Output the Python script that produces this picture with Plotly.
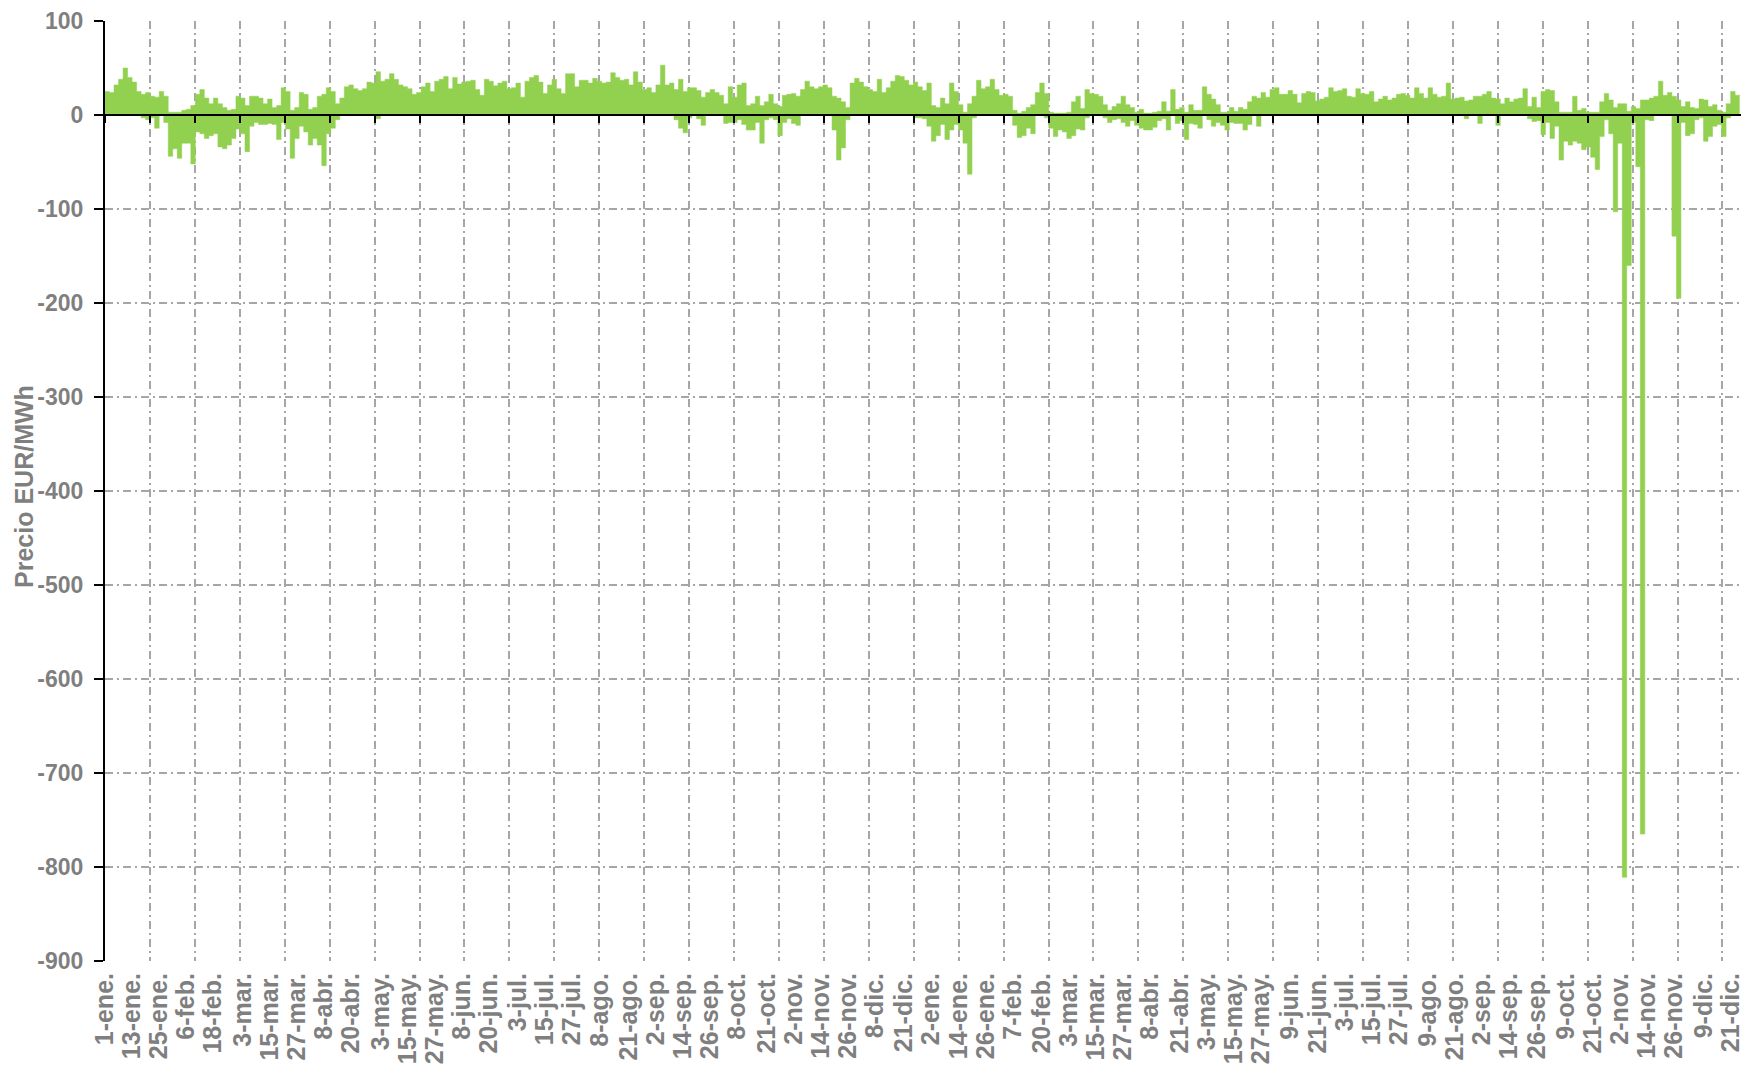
import pandas as pd
import plotly.graph_objects as go

# Two-day bins starting on 1 January 2023: highest and lowest price in each bin (EUR/MWh)
start_date = "2023-01-01"
bin_days = 2

bin_max = [
    25, 24, 32, 38, 50, 40, 35, 25, 22, 24,
    20, 19, 25, 20, 3, 3, 3, 5, 6, 10,
    22, 27, 18, 12, 18, 12, 8, 5, 6, 20,
    18, 10, 20, 20, 18, 12, 17, 8, 10, 29,
    25, 5, 8, 24, 22, 6, 8, 20, 22, 29,
    25, 12, 18, 30, 32, 28,
    26, 28, 35, 34, 46, 36, 38, 44, 38, 32, 30, 28, 22,
    24, 30, 34, 25, 36, 38, 41, 28, 40, 33,
    35, 36, 37, 27, 21, 38, 36, 31, 34, 36,
    28, 29, 34, 19, 36, 40, 42, 35, 23, 32,
    38, 28, 23, 44, 44, 30, 37, 37, 34, 39,
    36, 34, 35, 45, 40, 37, 38, 32, 46, 35,
    27, 29, 24, 32, 53, 32, 34, 27, 38, 25,
    29, 29, 26, 19, 24, 27, 24, 21, 12, 30,
    19, 32, 34, 10, 12, 20, 10, 14, 22, 12,
    9, 21, 22, 23, 20, 27, 36, 30, 28, 30,
    32, 29, 20, 18, 14, 8, 34, 39,
    35,
    30, 27, 25, 38, 24, 29, 36, 42, 41, 37,
    32, 35, 30, 26, 34, 10, 8, 18, 12, 34,
    25, 11, 3, 12, 20, 37, 28, 30, 38, 27,
    21, 22, 20, 5, 2, 4, 8, 11, 24, 34,
    23, 3, 2, 2, 2, 3, 14, 20, 7, 27,
    23, 22, 20, 11, 5, 9, 12, 20, 11, 8,
    3, 6, 2, 2, 3, 4, 14, 4, 27, 6,
    8, 3, 11, 5, 5, 30, 22, 17, 11, 3,
    3, 8, 4, 8, 6, 14, 20, 18, 24, 19,
    27, 29, 22, 22, 26, 22, 13, 23, 25, 24,
    15, 17, 19, 29, 25, 26, 28, 20, 19, 28,
    23, 22, 25, 14, 17, 20, 16, 18, 22,
    23, 21, 18, 29, 23, 18, 29, 22, 19, 20,
    34, 17, 18, 19, 15, 16, 20, 20, 22, 25,
    18, 17, 12, 18, 14, 17, 18, 28, 9, 19,
    8, 25, 27, 26, 14, 3, 3, 3, 20, 5,
    7, 3, 3, 3, 14, 23, 16, 8, 12, 12,
    4, 9, 7, 16, 16, 18, 20, 36, 21, 24,
    20, 16, 9, 14, 8, 7, 17, 16, 9, 11,
    5, 3, 12, 25, 21, 22,
]

bin_min = [
    0, 0, 0, 0, 0, 0, 0, 0, -3, -5,
    -3, -14, 0, -8, -44, -36, -46, -30, -30, -52,
    -18, -20, -25, -22, -20, -34, -36, -32, -25, -15,
    -20, -39, -12, -8, -10, -10, -9, -10, -26, -8,
    -15, -46, -25, -12, -18, -32, -25, -32, -54, -20,
    -14, -5, 0, 0, 0, 0,
    0, 0, 0, 0, -4, 0, 0, 0, 0, 0, 0, 0, 0,
    0, 0, 0, 0, 0, 0, 0, 0, 0, 0,
    0, 0, 0, 0, 0, 0, 0, 0, 0, 0,
    0, 0, 0, 0, 0, 0, 0, 0, 0, 0,
    0, 0, 0, 0, 0, 0, 0, 0, 0, 0,
    0, 0, 0, 0, 0, 0, 0, 0, 0, 0,
    0, 0, 0, 0, 0, 0, 0, -5, -14, -19,
    -3, 0, -4, -11, 0, 0, 0, 0, -9, -8,
    -8, -5, -10, -16, -16, -8, -30, -5, -3, -5,
    -22, -8, -4, -9, -11, 0, 0, 0, 0, 0,
    0, 0, -16, -48, -35, -5, 0, 0,
    0,
    0, 0, 0, 0, 0, 0, 0, 0, 0, 0,
    0, -3, -3, -4, -12, -28, -22, -10, -26, -16,
    -10, -16, -30, -63, -3, 0, 0, 0, 0, 0,
    0, 0, 0, -11, -24, -22, -14, -20, 0, 0,
    -3, -14, -23, -16, -18, -25, -22, -15, -16, -3,
    0, 0, 0, -3, -8, -5, -4, -8, -12, -6,
    -11, -14, -16, -16, -13, -6, -4, -16, 0, -9,
    -6, -26, -9, -10, -14, 0, -5, -12, -8, -11,
    -16, -8, -9, -9, -16, -10, 0, -12, 0, 0,
    0, 0, 0, 0, 0, 0, 0, 0, 0, 0,
    0, 0, 0, 0, 0, 0, 0, 0, 0, 0,
    0, 0, 0, 0, 0, 0, 0, 0, 0,
    0, 0, 0, 0, 0, 0, 0, 0, 0, 0,
    0, 0, 0, 0, -4, 0, 0, -9, 0, 0,
    0, -11, 0, 0, 0, 0, 0, 0, -4, -7,
    -6, -21, -8, -25, -12, -48, -28, -32, -28, -30,
    -37, -34, -45, -58, -23, -5, -20, -103, -30, -811,
    -160, -8, -55, -765, -5, -6, 0, 0, 0, 0,
    -129, -195, -8, -22, -20, -5, -3, -28, -23, -12,
    -10, -23, -3, 0, 0, 0,
]

tick_dates = [
    "2023-01-01", "2023-01-13", "2023-01-25", "2023-02-06", "2023-02-18",
    "2023-03-03", "2023-03-15", "2023-03-27", "2023-04-08", "2023-04-20",
    "2023-05-03", "2023-05-15", "2023-05-27", "2023-06-08", "2023-06-20",
    "2023-07-03", "2023-07-15", "2023-07-27", "2023-08-08", "2023-08-21",
    "2023-09-02", "2023-09-14", "2023-09-26", "2023-10-08", "2023-10-21",
    "2023-11-02", "2023-11-14", "2023-11-26", "2023-12-08", "2023-12-21",
    "2024-01-02", "2024-01-14", "2024-01-26", "2024-02-07", "2024-02-20",
    "2024-03-03", "2024-03-15", "2024-03-27", "2024-04-08", "2024-04-21",
    "2024-05-03", "2024-05-15", "2024-05-27", "2024-06-09", "2024-06-21",
    "2024-07-03", "2024-07-15", "2024-07-27", "2024-08-09", "2024-08-21",
    "2024-09-02", "2024-09-14", "2024-09-26", "2024-10-09", "2024-10-21",
    "2024-11-02", "2024-11-14", "2024-11-26", "2024-12-09", "2024-12-21",
]
tick_labels = [
    "1-ene.", "13-ene.", "25-ene.", "6-feb.", "18-feb.",
    "3-mar.", "15-mar.", "27-mar.", "8-abr.", "20-abr.",
    "3-may.", "15-may.", "27-may.", "8-jun.", "20-jun.",
    "3-jul.", "15-jul.", "27-jul.", "8-ago.", "21-ago.",
    "2-sep.", "14-sep.", "26-sep.", "8-oct.", "21-oct.",
    "2-nov.", "14-nov.", "26-nov.", "8-dic.", "21-dic.",
    "2-ene.", "14-ene.", "26-ene.", "7-feb.", "20-feb.",
    "3-mar.", "15-mar.", "27-mar.", "8-abr.", "21-abr.",
    "3-may.", "15-may.", "27-may.", "9-jun.", "21-jun.",
    "3-jul.", "15-jul.", "27-jul.", "9-ago.", "21-ago.",
    "2-sep.", "14-sep.", "26-sep.", "9-oct.", "21-oct.",
    "2-nov.", "14-nov.", "26-nov.", "9-dic.", "21-dic.",
]

price_ticks = [100, 0, -100, -200, -300, -400, -500, -600, -700, -800, -900]
price_tick_labels = ["100", "0", "-100", "-200", "-300", "-400", "-500", "-600", "-700", "-800", "-900"]

GREEN = "#92D050"
GREY_TEXT = "#7F7F7F"
GRID = "#A6A6A6"
GRID_DASH = "8px,4px,2px,4px"
FONT = "Liberation Sans, Arial, sans-serif"

x = pd.date_range(start_date, periods=len(bin_max), freq=f"{bin_days}D")
x_start = pd.Timestamp(start_date)
x_end = x_start + pd.Timedelta(days=724.6)
grid_step_ms = 19.9 * 86400000

fig = go.Figure()
fig.add_trace(go.Scatter(
    x=x, y=bin_max, mode="lines", line=dict(shape="hv", color=GREEN, width=0.5),
    fill="tozeroy", fillcolor=GREEN, hoverinfo="x+y", xaxis="x", yaxis="y",
))
fig.add_trace(go.Scatter(
    x=x, y=bin_min, mode="lines", line=dict(shape="hv", color=GREEN, width=0.5),
    fill="tozeroy", fillcolor=GREEN, hoverinfo="x+y", xaxis="x2", yaxis="y",
))

y_tick_font = dict(family=FONT, size=23, color=GREY_TEXT, weight="bold")
x_tick_font = dict(family=FONT, size=25, color=GREY_TEXT, weight="bold")

fig.update_layout(
    width=1744, height=1069,
    margin=dict(l=105, r=0, t=21, b=108),
    paper_bgcolor="white", plot_bgcolor="white",
    showlegend=False,
    xaxis=dict(
        type="date", range=[x_start, x_end],
        tickmode="array", tickvals=tick_dates, ticktext=tick_labels,
        tickangle=-90, ticks="", showgrid=False, showline=False, zeroline=False,
        tickfont=x_tick_font, ticklabelstandoff=6, ticklabeloverflow="allow",
    ),
    xaxis2=dict(
        type="date", range=[x_start, x_end], overlaying="x",
        anchor="free", position=0.9, side="bottom",
        tick0=x_start, dtick=grid_step_ms,
        showgrid=True, gridcolor=GRID, griddash=GRID_DASH, gridwidth=1.5,
        showline=True, linecolor="black", linewidth=2,
        ticks="outside", ticklen=7, tickwidth=2, tickcolor="black",
        showticklabels=False, zeroline=False,
    ),
    yaxis=dict(
        range=[-900, 100], tickmode="array", tickvals=price_ticks, ticktext=price_tick_labels,
        showline=True, linecolor="black", linewidth=2,
        ticks="outside", ticklen=9, tickwidth=2, tickcolor="black",
        showgrid=True, gridcolor=GRID, griddash=GRID_DASH, gridwidth=1.5,
        zeroline=False, tickfont=y_tick_font, ticklabelstandoff=6,
    ),
    annotations=[dict(
        text="Precio EUR/MWh", textangle=-90,
        xref="paper", yref="paper", x=-80.5 / 1639, y=0.505,
        xanchor="center", yanchor="middle", showarrow=False,
        font=dict(family=FONT, size=25, color=GREY_TEXT, weight="bold"),
    )],
)

fig.write_html("out.html")
